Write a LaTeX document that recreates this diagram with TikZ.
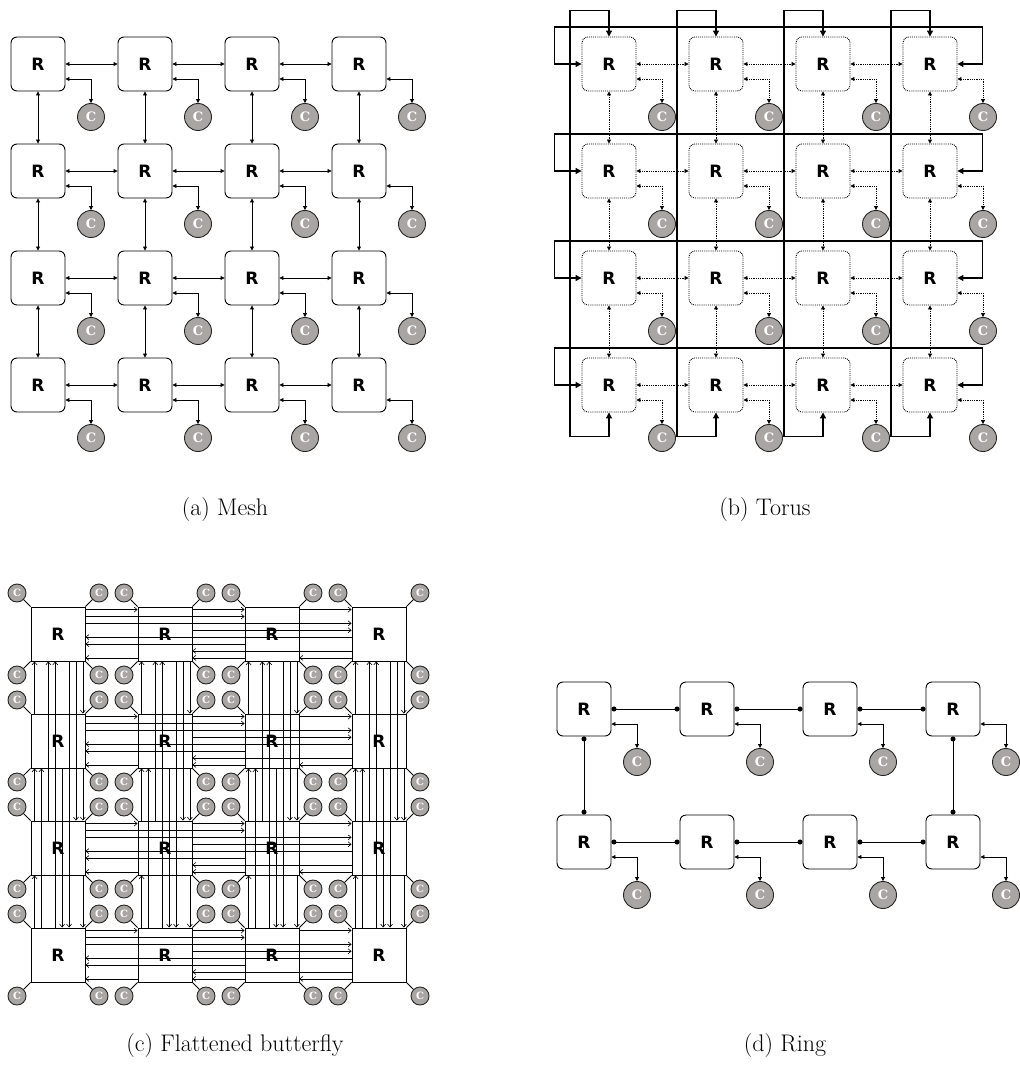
\documentclass[tikz,border=0pt]{standalone}
\usepackage{fontspec}
\newfontfamily\rfont{DejaVu Sans}
\newfontfamily\cfont{DejaVu Serif}
\usetikzlibrary{arrows.meta,calc}
\definecolor{cgray}{RGB}{168,165,163}
\begin{document}
\begin{tikzpicture}[x=1pt,y=-1pt,
  router/.style={draw, line width=0.9pt, rounded corners=6pt, minimum size=54pt, inner sep=0pt,
    font=\rfont\bfseries\fontsize{17}{17}\selectfont},
  drouter/.style={router, densely dotted},
  bfrouter/.style={draw, line width=0.9pt, minimum size=54pt, inner sep=0pt,
    font=\rfont\bfseries\fontsize{17}{17}\selectfont},
  core/.style={circle, draw=black!85, line width=0.9pt, fill=cgray, minimum size=27pt, inner sep=0pt,
    text=white, font=\cfont\bfseries\fontsize{13}{13}\selectfont},
  score/.style={core, minimum size=18pt, font=\cfont\bfseries\fontsize{10}{10}\selectfont},
  link/.style={line width=0.8pt, {Triangle[length=4pt,width=4pt]}-{Triangle[length=4pt,width=4pt]}},
  dlink/.style={link, densely dotted},
  wrap/.style={line width=1.1pt, {Triangle[length=6pt,width=6pt]}-{Triangle[length=6pt,width=6pt]}},
  bfline/.style={line width=0.6pt, -{Straight Barb[length=3pt,width=5pt]}},
  ringl/.style={line width=0.8pt, {Circle[length=5pt]}-{Circle[length=5pt]}},
  captext/.style={font=\fontsize{24}{24}\selectfont}
]
\useasboundingbox (0,0) rectangle (1019,1075);

% ================= (a) Mesh =================
\foreach \i in {0,...,3}{
  \foreach \j in {0,...,3}{
    \node[router] (m-\i-\j) at ({38+107*\i},{64+107*\j}) {R};
    \node[core] (mc-\i-\j) at ({91+107*\i},{117+107*\j}) {C};
    \draw[link] ($(m-\i-\j.east)+(0,15)$) -| (mc-\i-\j.north);
  }
}
\foreach \i/\n in {0/1,1/2,2/3}{
  \foreach \j in {0,...,3}{
    \draw[link] (m-\i-\j.east) -- (m-\n-\j.west);
    \draw[link] (m-\j-\i.south) -- (m-\j-\n.north);
  }
}
\node[captext] (capa) at (225,510) {(a) Mesh};

% ================= (b) Torus =================
\foreach \i in {0,...,3}{
  \foreach \j in {0,...,3}{
    \node[drouter] (t-\i-\j) at ({609+107*\i},{64+107*\j}) {R};
    \node[core] (tc-\i-\j) at ({662+107*\i},{117+107*\j}) {C};
    \draw[dlink] ($(t-\i-\j.east)+(0,15)$) -| (tc-\i-\j.north);
  }
}
\foreach \i/\n in {0/1,1/2,2/3}{
  \foreach \j in {0,...,3}{
    \draw[dlink] (t-\i-\j.east) -- (t-\n-\j.west);
    \draw[dlink] (t-\j-\i.south) -- (t-\j-\n.north);
  }
}
\foreach \i in {0,...,3}{
  \draw[wrap] (t-\i-0.north) |- ++(-39,-26) -- ++(0,426) -| (t-\i-3.south);
  \draw[wrap] (t-0-\i.west) -| ++(-27,-37) -- ++(428,0) |- (t-3-\i.east);
}
\node[captext] (capb) at (765,510) {(b) Torus};

% ================= (c) Flattened butterfly =================
\foreach \i in {0,...,3}{
  \foreach \j in {0,...,3}{
    \node[bfrouter] (b-\i-\j) at ({58+107*\i},{634+107*\j}) {R};
    \node[score] (bc-\i-\j-tl) at ({17+107*\i},{593+107*\j}) {C};
    \node[score] (bc-\i-\j-tr) at ({99+107*\i},{593+107*\j}) {C};
    \node[score] (bc-\i-\j-bl) at ({17+107*\i},{675+107*\j}) {C};
    \node[score] (bc-\i-\j-br) at ({99+107*\i},{675+107*\j}) {C};
    \draw[line width=0.8pt] (b-\i-\j.north west) -- (bc-\i-\j-tl);
    \draw[line width=0.8pt] (b-\i-\j.north east) -- (bc-\i-\j-tr);
    \draw[line width=0.8pt] (b-\i-\j.south west) -- (bc-\i-\j-bl);
    \draw[line width=0.8pt] (b-\i-\j.south east) -- (bc-\i-\j-br);
  }
}
\foreach \r in {0,...,3}{
  \foreach \a/\c/\k in {0/1/1,1/2/1,2/3/1,0/2/2,0/3/3,1/3/4}{
    \pgfmathsetmacro{\off}{3+6.9*(\k-1)}
    \draw[bfline] ($(b-\a-\r.north east)+(0,\off)$) -- ($(b-\c-\r.north west)+(0,\off)$);
  }
  \foreach \a/\c/\k in {3/0/5,2/0/6,3/1/7,1/0/8,2/1/8,3/2/8}{
    \pgfmathsetmacro{\off}{3+6.9*(\k-1)}
    \draw[bfline] ($(b-\a-\r.north west)+(0,\off)$) -- ($(b-\c-\r.north east)+(0,\off)$);
  }
  \foreach \a/\c/\k in {0/1/1,1/2/1,2/3/1,0/2/2,0/3/3,1/3/4}{
    \pgfmathsetmacro{\off}{4+6.9*(8-\k)}
    \draw[bfline] ($(b-\r-\a.south west)+(\off,0)$) -- ($(b-\r-\c.north west)+(\off,0)$);
  }
  \foreach \a/\c/\k in {3/0/5,2/0/6,3/1/7,1/0/8,2/1/8,3/2/8}{
    \pgfmathsetmacro{\off}{4+6.9*(8-\k)}
    \draw[bfline] ($(b-\r-\a.north west)+(\off,0)$) -- ($(b-\r-\c.south west)+(\off,0)$);
  }
}
\node[captext] (capc) at (235,1045) {(c) Flattened butterfly};

% ================= (d) Ring =================
\foreach \i in {0,...,3}{
  \foreach \j in {0,1}{
    \node[router] (r-\i-\j) at ({584+123*\i},{709+133*\j}) {R};
    \node[core] (rc-\i-\j) at ({637+123*\i},{762+133*\j}) {C};
    \draw[link] ($(r-\i-\j.east)+(0,15)$) -| (rc-\i-\j.north);
  }
}
\foreach \i/\n in {0/1,1/2,2/3}{
  \foreach \j in {0,1}{
    \draw[ringl] (r-\i-\j.east) -- (r-\n-\j.west);
  }
}
\draw[ringl] (r-0-0.south) -- (r-0-1.north);
\draw[ringl] (r-3-0.south) -- (r-3-1.north);
\node[captext] (capd) at (785,1045) {(d) Ring};
\end{tikzpicture}
\end{document}
